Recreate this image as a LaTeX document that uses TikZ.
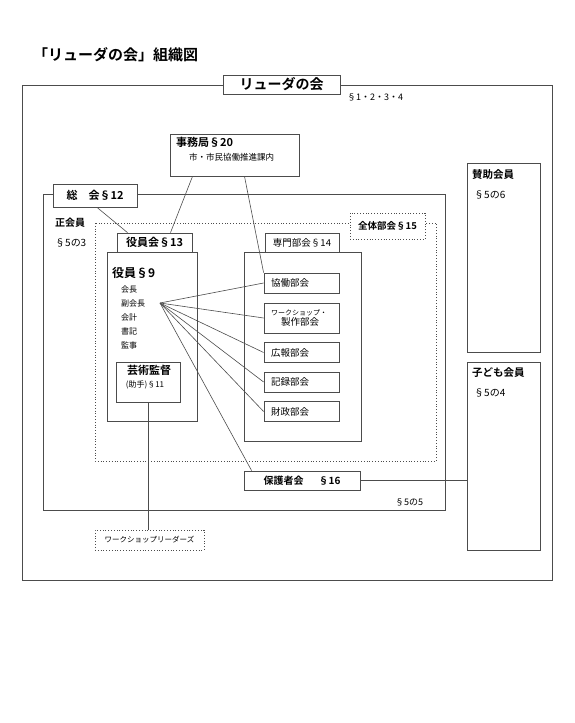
\documentclass[tikz,border=0pt]{standalone}
\usepackage{fontspec}
\setmainfont{Noto Sans CJK JP}[BoldFont={Noto Sans CJK JP Bold}]
\newcommand\fsz[1]{\fontsize{#1}{#1}\selectfont}
\tikzset{
  box/.style={draw=black!70,fill=white,line width=0.8pt,inner sep=0pt},
  dotbox/.style={box,dotted},
  lbl/.style={anchor=west,inner sep=0pt},
  bu/.style={box,minimum height=20pt,text width=61pt,inner xsep=7pt,align=left,font=\fsz{9.5}},
  conn/.style={draw=black!70,line width=0.6pt}
}
\begin{document}
\begin{tikzpicture}[x=1pt,y=-1pt]
  \useasboundingbox (0,0) rectangle (574,723);
  \node[lbl,font=\fsz{15}\bfseries] (title) at (33,55) {「リューダの会」組織図};

  \draw[draw=black!70,line width=0.9pt] (22,85) rectangle (552,580);
  \node[box,minimum width=117pt,minimum height=19pt,font=\fsz{14}\bfseries] (kai) at (281.5,84.5) {リューダの会};
  \node[lbl,font=\fsz{9}] (art1) at (347,97) {§1・2・3・4};

  \node[box,minimum width=129pt,minimum height=42pt] (jimu) at (234.5,155) {};
  \node[lbl,font=\fsz{11}\bfseries] (jimut) at (176,142) {事務局§20};
  \node[lbl,font=\fsz{8.5}] (jimus) at (189,157) {市・市民協働推進課内};

  \draw[draw=black!70,line width=0.8pt] (43,194) rectangle (445,510);
  \node[box,minimum width=84pt,minimum height=23pt,font=\fsz{11}\bfseries] (sokai) at (95,195.5) {総\hspace{1em}会§12};
  \node[lbl,font=\fsz{10}\bfseries] (seikai) at (55,223) {正会員};
  \node[lbl,font=\fsz{10}] (art3) at (55,243) {§5の3};

  \draw[dotted,draw=black!70,line width=0.8pt] (95,223) rectangle (436,461);
  \node[dotbox,minimum width=75pt,minimum height=26pt,font=\fsz{9.5}\bfseries] (zentai) at (387.5,226) {全体部会§15};

  \node[box,minimum width=90pt,minimum height=169pt] (yakuin) at (152,336.5) {};
  \node[box,minimum width=75pt,minimum height=19pt,font=\fsz{11}\bfseries] (yakuinkai) at (154.5,242.5) {役員会§13};
  \node[lbl,font=\fsz{12}\bfseries] (yakuint) at (112,273) {役員§9};
  \foreach \t [count=\i] in {会長,副会長,会計,書記,監事}
    \node[lbl,font=\fsz{8}] (yk\i) at (121,275+14*\i) {\t};
  \coordinate (fan) at (160,303);

  \node[box,minimum width=64pt,minimum height=40pt] (geijutsu) at (148,382) {};
  \node[font=\fsz{11}\bfseries,inner sep=0pt] (geit) at (149,370) {芸術監督};
  \node[font=\fsz{8},inner sep=0pt] (geis) at (145,385) {(助手)§11};

  \node[box,minimum width=117pt,minimum height=189pt] (senmon) at (302.5,346.5) {};
  \node[box,minimum width=74pt,minimum height=19pt,font=\fsz{9.5}] (senmonkai) at (302,242.5) {専門部会§14};
  \node[bu] (kyodo) at (301.5,283) {協働部会};
  \node[bu,minimum height=30pt] (ws) at (301.5,318) {{\fsz{7}ワークショップ・}\\[1pt]\hspace*{10pt}製作部会};
  \node[bu] (koho) at (301.5,352.5) {広報部会};
  \node[bu] (kiroku) at (301.5,382) {記録部会};
  \node[bu] (zaisei) at (301.5,411.5) {財政部会};

  \node[box,minimum width=116pt,minimum height=19pt,font=\fsz{10}\bfseries] (hogosha) at (302,480.5) {保護者会\hspace{1.5em}§16};
  \node[lbl,font=\fsz{9}] (art5) at (395,502) {§5の5};

  \node[dotbox,minimum width=109pt,minimum height=20pt,font=\fsz{7.5}] (wsl) at (149.5,540) {ワークショップリーダーズ};

  \node[box,minimum width=73pt,minimum height=189pt] (sanjo) at (503.5,257.5) {};
  \node[lbl,font=\fsz{10.5}\bfseries] (sanjot) at (472,175) {賛助会員};
  \node[lbl,font=\fsz{10}] (sanjos) at (474,195) {§5の6};
  \node[box,minimum width=73pt,minimum height=188pt] (kodomo) at (503.5,456) {};
  \node[lbl,font=\fsz{10.5}\bfseries] (kodomot) at (472,373) {子ども会員};
  \node[lbl,font=\fsz{10}] (kodomos) at (474,393) {§5の4};

  \draw[conn] ([xshift=2pt]sokai.south) -- ([xshift=-27pt]yakuinkai.north);
  \draw[conn] ([xshift=-42pt]jimu.south) -- ([xshift=16pt]yakuinkai.north);
  \draw[conn] ([xshift=10pt]jimu.south) -- (kyodo.north west);
  \foreach \b in {kyodo,ws,koho,kiroku,zaisei}
    \draw[conn] (fan) -- (\b.west);
  \draw[conn] (fan) -- ([xshift=8pt]hogosha.north west);
  \draw[conn] (geijutsu.south) -- (geijutsu.south |- wsl.north);
  \draw[conn] (hogosha.east) -- (hogosha.east -| kodomo.west);
\end{tikzpicture}
\end{document}
